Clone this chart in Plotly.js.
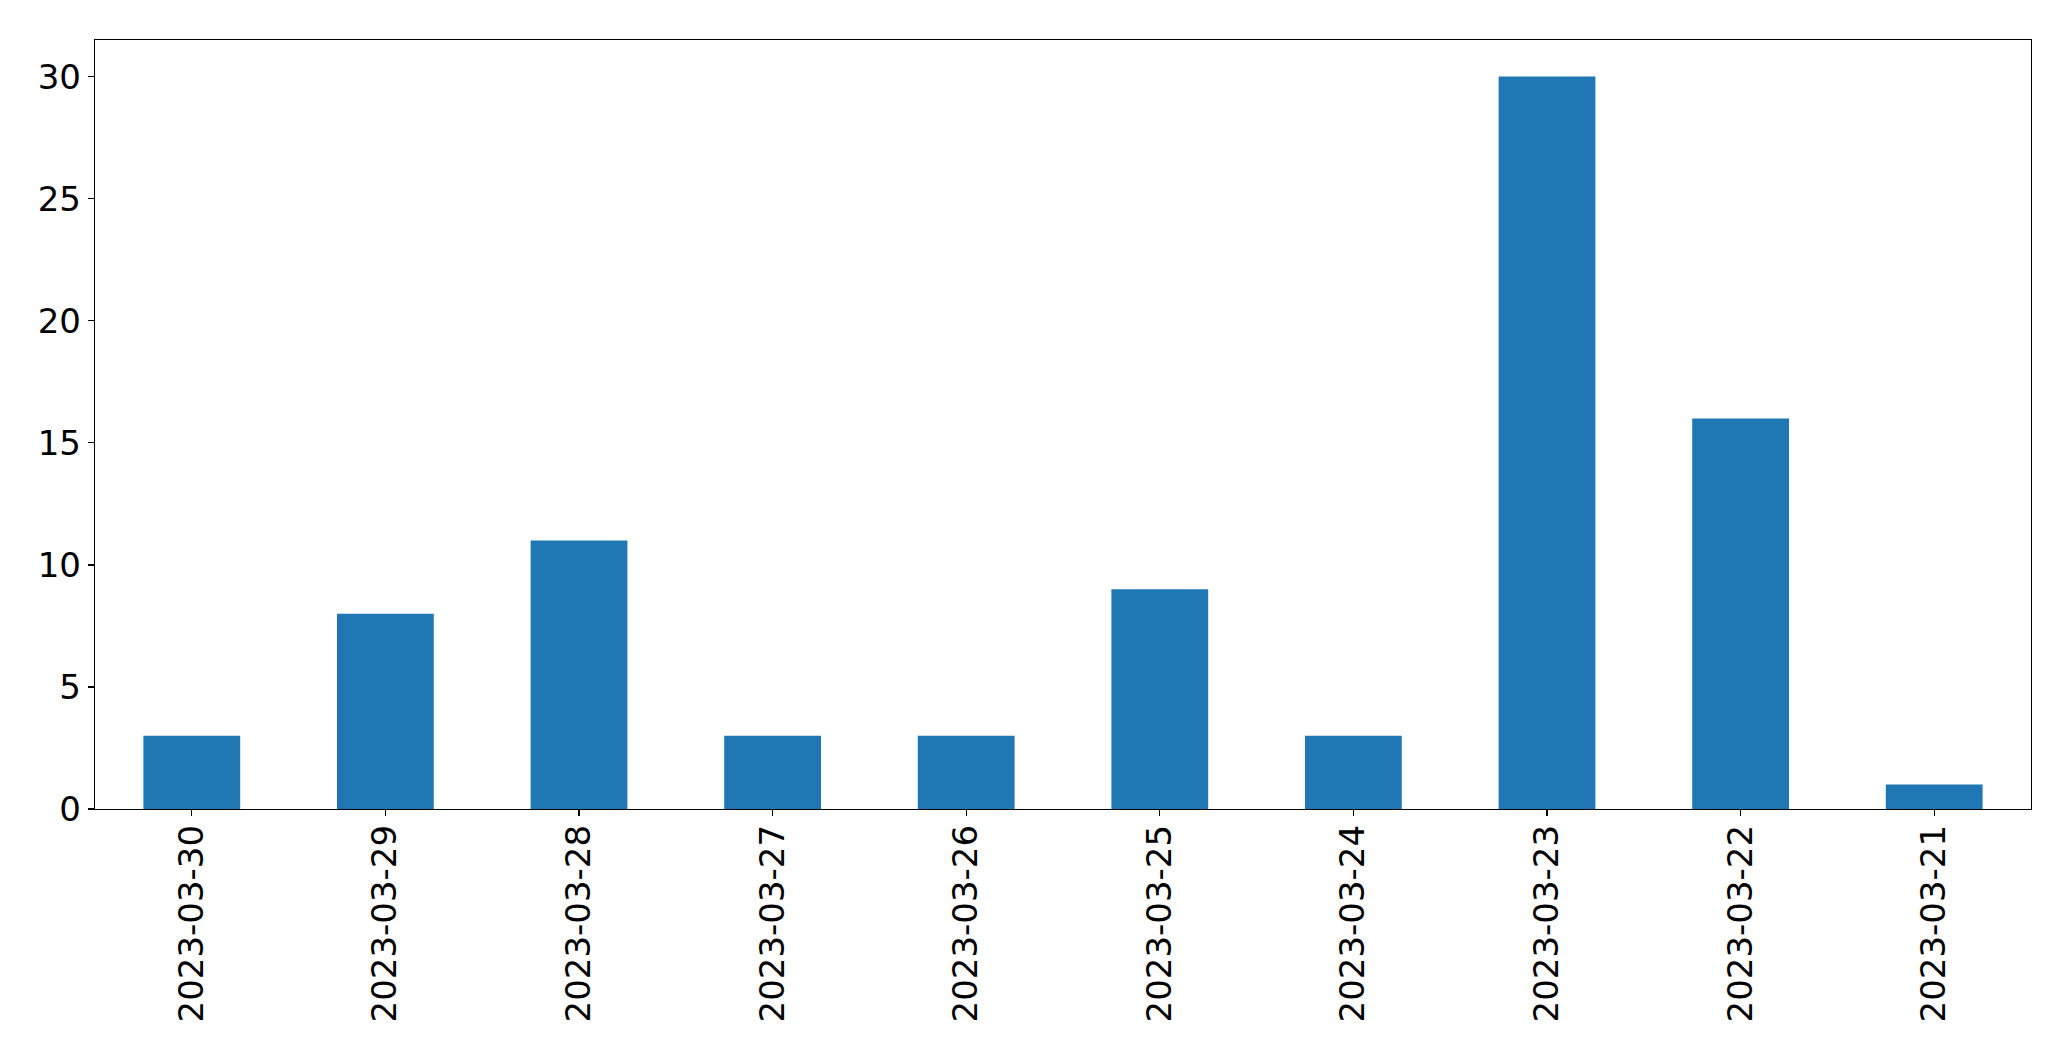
<!DOCTYPE html>
<html>
<head>
<meta charset="utf-8">
<script src="https://cdn.plot.ly/plotly-3.0.1.min.js"></script>
<style>html,body{margin:0;padding:0;background:#fff;}#chart{width:2071px;height:1061px;}</style>
</head>
<body>
<div id="chart"></div>
<script>
const categories = ["2023-03-30","2023-03-29","2023-03-28","2023-03-27","2023-03-26","2023-03-25","2023-03-24","2023-03-23","2023-03-22","2023-03-21"];
const counts = [3, 8, 11, 3, 3, 9, 3, 30, 16, 1];
const yTicks = [0, 5, 10, 15, 20, 25, 30];

const font = {family: "DejaVu Sans", size: 34, color: "#000"};
Plotly.newPlot("chart", [{
  type: "bar",
  x: categories,
  y: counts,
  width: 0.5,
  marker: {color: "#1f77b4", line: {width: 0}},
  hoverinfo: "x+y"
}], {
  width: 2071, height: 1061,
  margin: {l: 94.5, r: 40, t: 39.5, b: 252},
  paper_bgcolor: "#fff", plot_bgcolor: "#fff",
  showlegend: false,
  font: font,
  xaxis: {
    type: "category",
    range: [-0.5, 9.5],
    tickangle: -90,
    ticks: "outside", ticklen: 6, tickwidth: 1.3, tickcolor: "#000",
    ticklabelstandoff: -5,
    showline: true, mirror: true, linecolor: "#000", linewidth: 1.3,
    showgrid: false, zeroline: false,
    tickfont: font
  },
  yaxis: {
    range: [0, 31.5],
    tickvals: yTicks,
    ticktext: yTicks.map(String),
    ticks: "outside", ticklen: 6, tickwidth: 1.3, tickcolor: "#000",
    showline: true, mirror: true, linecolor: "#000", linewidth: 1.3,
    showgrid: false, zeroline: false,
    tickfont: font
  }
}, {displayModeBar: false, staticPlot: true});
</script>
</body>
</html>
